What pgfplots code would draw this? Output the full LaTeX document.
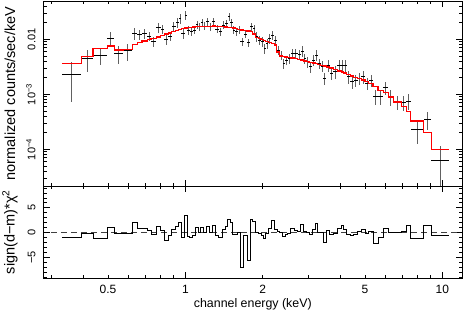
\documentclass[border=0pt]{standalone}
\usepackage{fontspec}
\setmainfont{Liberation Sans}
\usepackage{pgfplots}
\pgfplotsset{compat=1.18}
\usepackage{pgfplotstable}

\pgfplotstableread{
lo hi y re m r
0.331 0.394 2.27e-3 0.68 3.60e-3 -0.9
0.394 0.437 4.44e-3 0.42 4.91e-3 -0.1
0.437 0.497 5.18e-3 0.35 6.86e-3 -1.1
0.497 0.528 1.043e-2 0.29 7.56e-3 1.1
0.528 0.572 5.56e-3 0.35 6.39e-3 -0.2
0.572 0.622 6.21e-3 0.34 6.58e-3 -0.1
0.622 0.650 1.286e-2 0.25 8.0e-3 2.1
0.650 0.678 1.233e-2 0.22 8.75e-3 0.9
0.678 0.710 1.286e-2 0.22 9.31e-3 0.8
0.710 0.735 1.148e-2 0.2 9.92e-3 0.5
0.735 0.771 9.05e-3 0.2 1.034e-2 -0.4
0.771 0.801 1.653e-2 0.2 1.101e-2 1.3
0.801 0.829 1.539e-2 0.2 1.172e-2 0.4
0.829 0.859 1.000e-2 0.2 1.249e-2 -1.5
0.859 0.884 1.148e-2 0.2 1.302e-2 -0.6
0.884 0.916 1.745e-2 0.2 1.386e-2 0.6
0.916 0.943 2.004e-2 0.2 1.445e-2 1.2
0.943 0.965 2.410e-2 0.2 1.507e-2 2.1
0.965 0.993 1.286e-2 0.2 1.572e-2 -1.0
0.993 1.015 2.766e-2 0.2 1.605e-2 3.4
1.015 1.040 1.476e-2 0.2 1.639e-2 -0.75
1.040 1.069 1.375e-2 0.17 1.660e-2 -1.0
1.069 1.096 1.476e-2 0.17 1.674e-2 -0.6
1.096 1.124 1.858e-2 0.17 1.688e-2 1.0
1.124 1.149 1.695e-2 0.17 1.702e-2 0
1.149 1.175 2.004e-2 0.17 1.709e-2 1.0
1.175 1.207 1.745e-2 0.17 1.716e-2 0.1
1.207 1.240 2.089e-2 0.17 1.723e-2 1.2
1.240 1.274 1.695e-2 0.17 1.731e-2 0
1.274 1.309 2.107e-2 0.17 1.745e-2 1.5
1.309 1.346 1.539e-2 0.17 1.731e-2 -0.5
1.346 1.389 1.375e-2 0.17 1.709e-2 -1.0
1.389 1.427 1.820e-2 0.17 1.688e-2 0.6
1.427 1.461 1.954e-2 0.17 1.674e-2 1.2
1.461 1.494 2.576e-2 0.17 1.660e-2 2.7
1.494 1.526 2.004e-2 0.17 1.639e-2 2.1
1.526 1.561 1.476e-2 0.17 1.605e-2 -0.3
1.561 1.598 1.375e-2 0.17 1.552e-2 -0.4
1.598 1.637 1.520e-2 0.17 1.520e-2 0
1.637 1.686 9.05e-3 0.17 1.476e-2 -7.1
1.686 1.738 1.249e-2 0.17 1.445e-2 -0.6
1.738 1.789 8.67e-3 0.17 1.416e-2 -5.7
1.789 1.831 1.695e-2 0.17 1.375e-2 2.6
1.831 1.874 1.585e-2 0.17 1.249e-2 2.3
1.874 1.922 1.115e-2 0.2 1.087e-2 0.1
1.922 1.970 9.71e-3 0.2 1.034e-2 -0.2
1.970 2.015 9.05e-3 0.2 9.92e-3 -0.6
2.015 2.057 6.86e-3 0.2 9.51e-3 -1.2
2.057 2.105 8.46e-3 0.2 9.12e-3 -0.2
2.105 2.157 1.043e-2 0.2 8.75e-3 0.8
2.157 2.214 1.197e-2 0.2 8.46e-3 2.5
2.214 2.272 9.71e-3 0.2 7.88e-3 0.6
2.272 2.332 6.39e-3 0.2 5.88e-3 0.2
2.332 2.389 5.18e-3 0.2 4.97e-3 0
2.389 2.443 3.66e-3 0.2 4.87e-3 -0.8
2.443 2.501 4.20e-3 0.2 4.77e-3 -0.3
2.501 2.569 4.51e-3 0.2 4.67e-3 -0.1
2.569 2.648 5.56e-3 0.2 4.57e-3 0.8
2.648 2.733 5.56e-3 0.2 4.48e-3 0.5
2.733 2.815 5.40e-3 0.2 4.33e-3 0.3
2.815 2.883 6.13e-3 0.22 4.20e-3 1.7
2.883 2.949 4.51e-3 0.22 4.03e-3 0.2
2.949 3.029 3.92e-3 0.22 3.90e-3 0
3.029 3.120 3.18e-3 0.22 3.79e-3 -0.4
3.120 3.200 4.20e-3 0.22 3.71e-3 0.7
3.200 3.273 5.18e-3 0.22 3.63e-3 1.8
3.273 3.359 3.66e-3 0.22 3.51e-3 0.1
3.359 3.444 3.27e-3 0.22 3.38e-3 0
3.444 3.538 1.954e-3 0.25 3.27e-3 -2.0
3.538 3.644 3.41e-3 0.25 3.135e-3 0.5
3.644 3.757 2.41e-3 0.25 3.01e-3 -0.4
3.757 3.900 2.58e-3 0.25 2.83e-3 -0.1
3.900 4.036 3.41e-3 0.25 2.65e-3 0.9
4.036 4.127 3.41e-3 0.25 2.54e-3 1.5
4.127 4.248 3.41e-3 0.25 2.44e-3 0.6
4.248 4.387 2.09e-3 0.25 2.29e-3 -0.3
4.387 4.526 1.695e-3 0.25 2.15e-3 -0.6
4.526 4.687 1.82e-3 0.25 2.05e-3 -0.4
4.687 4.841 1.954e-3 0.25 1.938e-3 0.2
4.841 5.003 2.09e-3 0.25 1.82e-3 0.7
5.003 5.176 1.585e-3 0.25 1.695e-3 -0.1
5.176 5.375 1.82e-3 0.25 1.572e-3 0.2
5.375 5.621 9.05e-4 0.3 1.386e-3 -2.3
5.621 5.894 9.05e-4 0.3 1.173e-3 -1.0
5.894 6.164 1.318e-3 0.25 1.078e-3 0.8
6.164 6.446 9.05e-4 0.33 8.93e-4 0
6.446 6.909 7.15e-4 0.28 7.24e-4 0
6.909 7.226 7.04e-4 0.3 5.95e-4 0.3
7.226 7.523 7.55e-4 0.32 4.83e-4 1.5
7.523 8.466 2.31e-4 0.45 3.27e-4 -1.1
8.466 9.063 3.56e-4 0.36 2.00e-4 1.5
9.063 10.65 6.2e-5 0.85 1.0e-4 -0.6
}\spectab

\begin{document}
\begin{tikzpicture}
\useasboundingbox (0,0) rectangle (464bp,311bp);
\begin{axis}[
  scale only axis, width=419bp, height=185bp,
  at={(43.3bp,125bp)}, anchor=south west,
  xmode=log, xmin=0.28, xmax=11.96,
  ymode=log, ymin=2.153e-5, ymax=0.0497,
  tick align=inside,
  major tick length=6.5bp, minor tick length=3.3bp,
  every tick/.append style={black, line width=0.7bp},
  axis line style={line width=0.8bp},
  xtick={1,10}, xticklabels={},
  extra x ticks={0.5,2,5}, extra x tick labels={},
  extra x tick style={major tick length=3.3bp},
  minor xtick={0.3,0.4,0.6,0.7,0.8,0.9,3,4,6,7,8,9},
  ytick={1e-4,1e-3,1e-2},
  yticklabels={10\textsuperscript{−4},10\textsuperscript{−3},0.01},
  minor ytick={3e-5,4e-5,5e-5,6e-5,7e-5,8e-5,9e-5,2e-4,3e-4,4e-4,5e-4,6e-4,7e-4,8e-4,9e-4,2e-3,3e-3,4e-3,5e-3,6e-3,7e-3,8e-3,9e-3,2e-2,3e-2,4e-2},
  yticklabel style={rotate=90, anchor=south, inner sep=7.5bp, font=\fontsize{11bp}{13bp}\selectfont},
  ylabel={normalized counts/sec/keV},
  ylabel style={at={(axis description cs:-0.0795,0.5)}, anchor=center, font=\fontsize{14.5bp}{16bp}\selectfont},
]
% vertical error bars (grey)
\addplot[draw=none, mark=none,
  error bars/.cd, y dir=both, y explicit,
  error mark=none, error bar style={draw=black!62, line width=0.8bp}]
  table[x expr={sqrt(\thisrow{lo}*\thisrow{hi})}, y=y,
        y error expr={\thisrow{y}*\thisrow{re}}] {\spectab};
% horizontal error bars (black)
\addplot[draw=none, mark=none,
  error bars/.cd, x dir=both, x explicit,
  error mark=none, error bar style={draw=black, line width=0.8bp}]
  table[x expr={sqrt(\thisrow{lo}*\thisrow{hi})}, y=y,
        x error minus expr={sqrt(\thisrow{lo}*\thisrow{hi})-\thisrow{lo}},
        x error plus expr={\thisrow{hi}-sqrt(\thisrow{lo}*\thisrow{hi})}] {\spectab};
\addplot[red, line width=1.1bp, const plot] table[x=lo, y=m] {\spectab};
\addplot[red, line width=1.1bp] coordinates {(9.063,1.0e-4) (10.65,1.0e-4)};
\end{axis}

\begin{axis}[
  scale only axis, width=419bp, height=92bp,
  at={(43.3bp,33bp)}, anchor=south west,
  xmode=log, xmin=0.28, xmax=11.96,
  ymin=-9.2, ymax=9.4,
  tick align=inside,
  major tick length=6.5bp, minor tick length=3.3bp,
  every tick/.append style={black, line width=0.7bp},
  axis line style={line width=0.8bp},
  xtick={1,10}, xticklabels={1,10},
  extra x ticks={0.5,2,5}, extra x tick labels={0.5,2,5},
  extra x tick style={major tick length=3.3bp},
  minor xtick={0.3,0.4,0.6,0.7,0.8,0.9,3,4,6,7,8,9},
  xticklabel style={anchor=north, inner sep=0pt, yshift=-7bp, font=\fontsize{12bp}{14bp}\selectfont},
  ytick={-5,0,5}, yticklabels={−5,0,5},
  minor ytick={-9,-8,-7,-6,-4,-3,-2,-1,1,2,3,4,6,7,8,9},
  yticklabel style={rotate=90, anchor=south, inner sep=7.5bp, font=\fontsize{11bp}{13bp}\selectfont},
  xlabel={channel energy (keV)},
  xlabel style={at={(axis description cs:0.5,-0.2826)}, anchor=center, font=\fontsize{12.4bp}{14bp}\selectfont},
  ylabel={sign(d−m)*χ\textsuperscript{2}},
  ylabel style={at={(axis description cs:-0.0795,0.5)}, anchor=center, font=\fontsize{14.5bp}{16bp}\selectfont},
]
\addplot[black!75, dash pattern=on 6bp off 4bp, line width=0.7bp] coordinates {(0.3,0) (11.6,0)};
\addplot[black, line width=0.8bp, const plot] table[x=lo, y=r] {\spectab};
\addplot[black, line width=0.8bp] coordinates {(9.063,-0.6) (10.65,-0.6)};
\end{axis}
\end{tikzpicture}
\end{document}
